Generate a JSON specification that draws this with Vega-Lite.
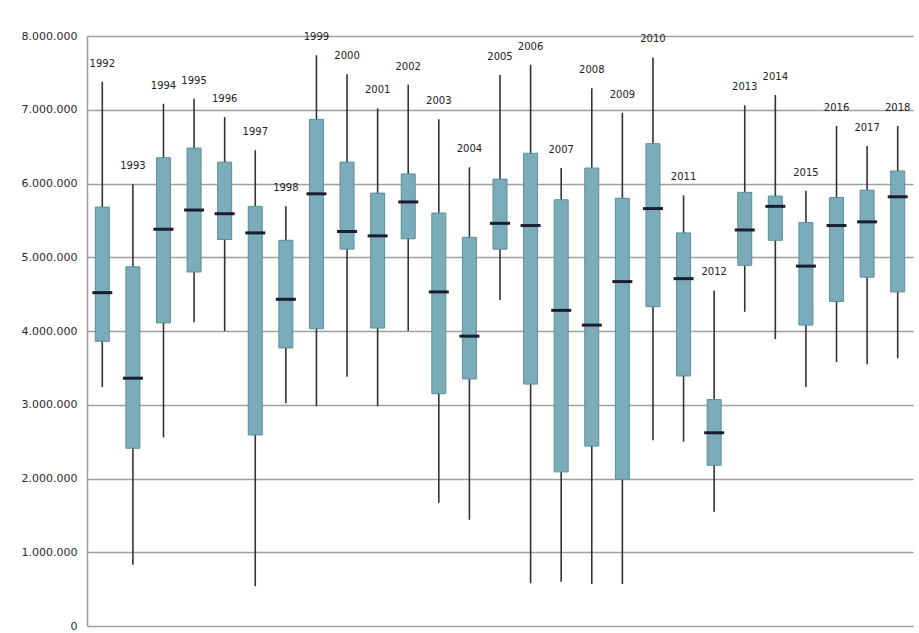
{
  "$schema": "https://vega.github.io/schema/vega-lite/v6.json",
  "autosize": "none",
  "width": 826,
  "height": 590,
  "padding": {"left": 87, "top": 36, "right": 6, "bottom": 7},
  "background": "white",
  "config": {
    "view": {"stroke": null},
    "locale": {"number": {"decimal": ",", "thousands": ".", "grouping": [3], "currency": ["", " €"]}},
    "font": "DejaVu Sans"
  },
  "data": {
    "values": [
      {"year": "1992", "min": 3240000, "q1": 3860000, "median": 4520000, "q3": 5680000, "max": 7380000},
      {"year": "1993", "min": 830000, "q1": 2410000, "median": 3360000, "q3": 4870000, "max": 5990000},
      {"year": "1994", "min": 2560000, "q1": 4110000, "median": 5380000, "q3": 6350000, "max": 7080000},
      {"year": "1995", "min": 4120000, "q1": 4800000, "median": 5640000, "q3": 6480000, "max": 7150000},
      {"year": "1996", "min": 4000000, "q1": 5240000, "median": 5590000, "q3": 6290000, "max": 6900000},
      {"year": "1997", "min": 540000, "q1": 2590000, "median": 5330000, "q3": 5690000, "max": 6450000},
      {"year": "1998", "min": 3020000, "q1": 3770000, "median": 4430000, "q3": 5230000, "max": 5690000},
      {"year": "1999", "min": 2980000, "q1": 4030000, "median": 5860000, "q3": 6870000, "max": 7740000},
      {"year": "2000", "min": 3380000, "q1": 5110000, "median": 5350000, "q3": 6290000, "max": 7480000},
      {"year": "2001", "min": 2980000, "q1": 4040000, "median": 5290000, "q3": 5870000, "max": 7020000},
      {"year": "2002", "min": 4000000, "q1": 5250000, "median": 5750000, "q3": 6130000, "max": 7340000},
      {"year": "2003", "min": 1670000, "q1": 3150000, "median": 4530000, "q3": 5600000, "max": 6870000},
      {"year": "2004", "min": 1440000, "q1": 3350000, "median": 3930000, "q3": 5270000, "max": 6220000},
      {"year": "2005", "min": 4420000, "q1": 5110000, "median": 5460000, "q3": 6060000, "max": 7470000},
      {"year": "2006", "min": 580000, "q1": 3280000, "median": 5430000, "q3": 6410000, "max": 7610000},
      {"year": "2007", "min": 600000, "q1": 2090000, "median": 4280000, "q3": 5780000, "max": 6210000},
      {"year": "2008", "min": 570000, "q1": 2440000, "median": 4080000, "q3": 6210000, "max": 7290000},
      {"year": "2009", "min": 570000, "q1": 1990000, "median": 4670000, "q3": 5800000, "max": 6960000},
      {"year": "2010", "min": 2520000, "q1": 4330000, "median": 5660000, "q3": 6540000, "max": 7710000},
      {"year": "2011", "min": 2500000, "q1": 3390000, "median": 4710000, "q3": 5330000, "max": 5840000},
      {"year": "2012", "min": 1550000, "q1": 2180000, "median": 2620000, "q3": 3070000, "max": 4550000},
      {"year": "2013", "min": 4260000, "q1": 4890000, "median": 5370000, "q3": 5880000, "max": 7060000},
      {"year": "2014", "min": 3890000, "q1": 5230000, "median": 5690000, "q3": 5830000, "max": 7200000},
      {"year": "2015", "min": 3240000, "q1": 4080000, "median": 4880000, "q3": 5470000, "max": 5900000},
      {"year": "2016", "min": 3580000, "q1": 4400000, "median": 5430000, "q3": 5810000, "max": 6780000},
      {"year": "2017", "min": 3550000, "q1": 4730000, "median": 5480000, "q3": 5910000, "max": 6510000},
      {"year": "2018", "min": 3630000, "q1": 4530000, "median": 5820000, "q3": 6170000, "max": 6780000}
    ]
  },
  "encoding": {
    "x": {"field": "year", "type": "nominal", "axis": null, "scale": {"paddingInner": 0, "paddingOuter": 0}}
  },
  "layer": [
    {
      "mark": {"type": "rule", "stroke": "#333333", "strokeWidth": 1.6},
      "encoding": {
        "y": {"field": "min", "type": "quantitative", "scale": {"domain": [0, 8000000], "nice": false},
          "axis": {"values": [0, 1000000, 2000000, 3000000, 4000000, 5000000, 6000000, 7000000, 8000000],
            "format": ",d", "title": null, "ticks": false, "labelPadding": 10, "labelFontSize": 11,
            "labelColor": "#2a2a2a", "gridColor": "#a0a0a0", "gridWidth": 1.6, "domainColor": "#999999", "domainWidth": 1.5}},
        "y2": {"field": "max"}
      }
    },
    {
      "mark": {"type": "bar", "size": 14, "fill": "#7aadb9", "stroke": "#5b8f9b", "strokeWidth": 1},
      "encoding": {
        "y": {"field": "q1", "type": "quantitative"},
        "y2": {"field": "q3"}
      }
    },
    {
      "mark": {"type": "tick", "size": 20, "thickness": 3, "color": "#1c1c30", "opacity": 1},
      "encoding": {
        "y": {"field": "median", "type": "quantitative"}
      }
    },
    {
      "mark": {"type": "text", "dy": -18, "fontSize": 10, "color": "#222222", "baseline": "middle"},
      "encoding": {
        "y": {"field": "max", "type": "quantitative"},
        "text": {"field": "year"}
      }
    }
  ]
}
